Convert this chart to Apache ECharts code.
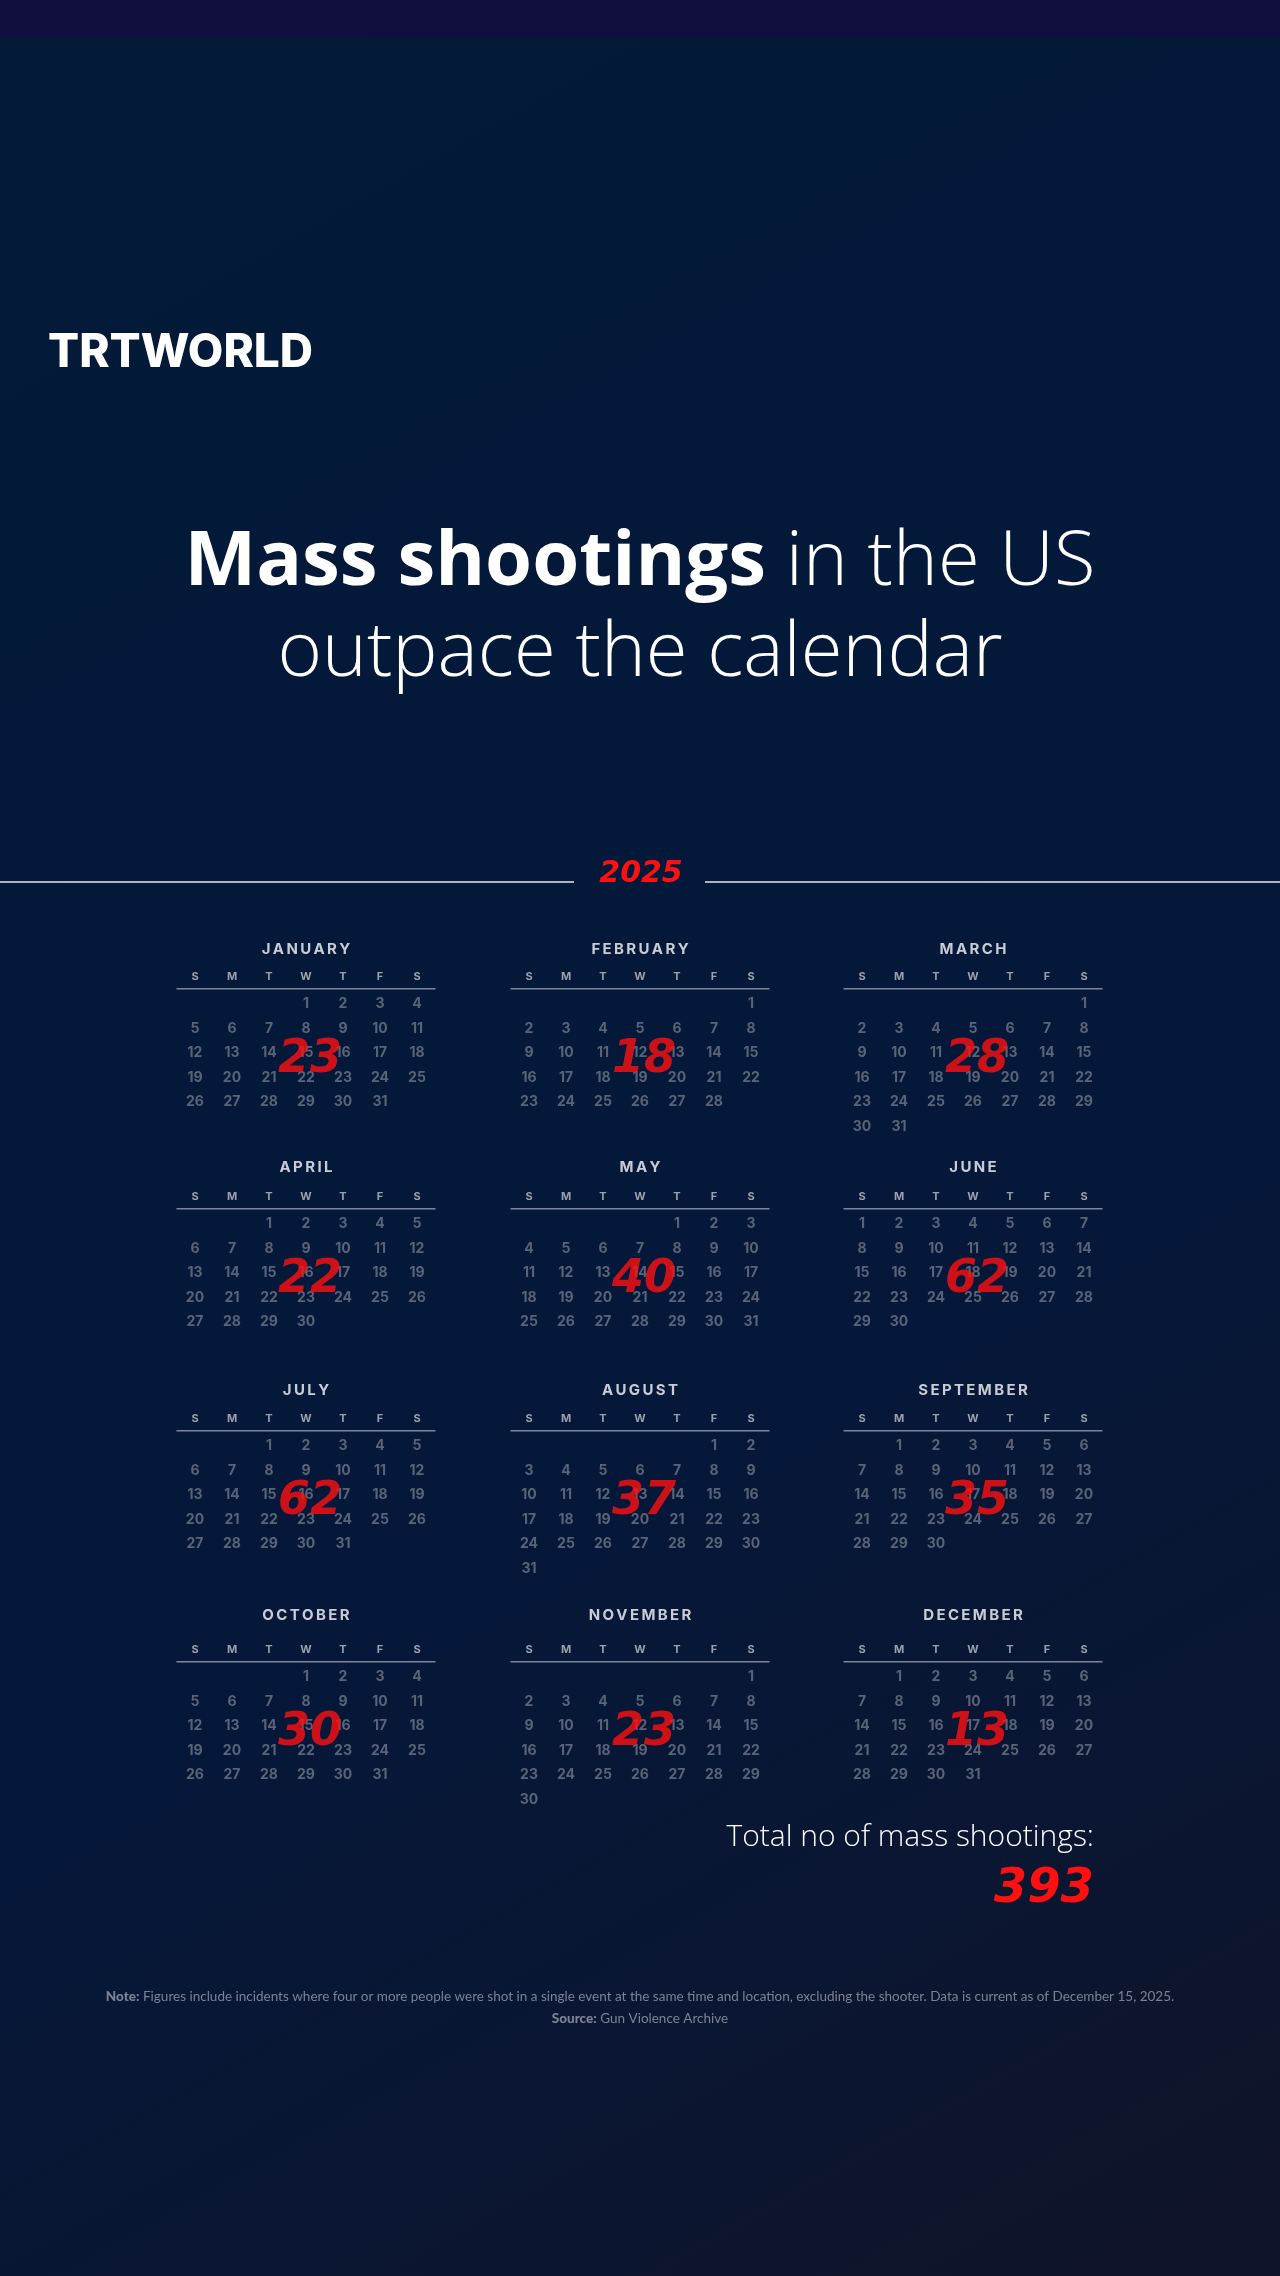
<!DOCTYPE html>
<html>
<head>
<meta charset="utf-8">
<title>Mass shootings in the US outpace the calendar</title>
<script src="https://cdn.jsdelivr.net/npm/echarts@6/dist/echarts.min.js"></script>
<style>
  html, body { margin: 0; padding: 0; background: #04193a; }
  #chart { width: 1280px; height: 2276px; }
</style>
</head>
<body>
<div id="chart"></div>
<script>
// data
const year = 2025;
const monthNames = ['JANUARY', 'FEBRUARY', 'MARCH', 'APRIL', 'MAY', 'JUNE',
  'JULY', 'AUGUST', 'SEPTEMBER', 'OCTOBER', 'NOVEMBER', 'DECEMBER'];
const shootings = [23, 18, 28, 22, 40, 62, 62, 37, 35, 30, 23, 13];
const dayNames = ['S', 'M', 'T', 'W', 'T', 'F', 'S'];

// layout of the 3 x 4 grid of months
const colLeft = [176.5, 510.5, 843.5];
const rowTop = [991.75, 1211.75, 1433.75, 1664.75];
const headerGap = [35, 37, 36, 42];
const cellW = 37, cellH = 24.5;

const chart = echarts.init(document.getElementById('chart'));

const pad = n => (n < 10 ? '0' : '') + n;
const spaced = s => s.split('').join('\u2009');

const calendars = [];
const series = [];
const lines = [];

monthNames.forEach((name, m) => {
  const left = colLeft[m % 3];
  const top = rowTop[Math.floor(m / 3)];
  calendars.push({
    orient: 'vertical',
    range: year + '-' + pad(m + 1),
    left: left,
    top: top,
    cellSize: [cellW, cellH],
    splitLine: { show: false },
    itemStyle: { color: 'transparent', borderWidth: 0 },
    dayLabel: {
      firstDay: 0,
      nameMap: dayNames,
      position: 'start',
      margin: 10,
      color: '#9ba1ad',
      fontSize: 11,
      fontWeight: 700,
      fontFamily: 'Inter'
    },
    monthLabel: { show: false },
    yearLabel: {
      show: true,
      position: 'top',
      margin: headerGap[Math.floor(m / 3)],
      formatter: () => spaced(name),
      color: '#c9ccd3',
      fontSize: 15,
      fontWeight: 700,
      fontFamily: 'Inter'
    }
  });

  // separator under the weekday letters
  lines.push({
    type: 'line',
    shape: { x1: left, y1: top - 3, x2: left + cellW * 7, y2: top - 3 },
    style: { stroke: '#7f8594', lineWidth: 1.5 },
    silent: true
  });

  // day numbers
  const days = new Date(year, m + 1, 0).getDate();
  const dayData = [];
  for (let d = 1; d <= days; d++) {
    dayData.push([year + '-' + pad(m + 1) + '-' + pad(d), d]);
  }
  series.push({
    type: 'scatter',
    coordinateSystem: 'calendar',
    calendarIndex: m,
    symbolSize: 1,
    itemStyle: { color: 'transparent' },
    silent: true,
    label: {
      show: true,
      position: 'inside',
      formatter: p => p.value[1],
      color: '#6f7787',
      fontSize: 14,
      fontWeight: 700,
      fontFamily: 'Inter'
    },
    data: dayData,
    z: 2
  });

  // monthly total, written over the Wednesday of the third week
  const firstDow = new Date(year, m, 1).getDay();
  const markDay = 18 - firstDow;
  series.push({
    type: 'scatter',
    coordinateSystem: 'calendar',
    calendarIndex: m,
    symbolSize: 1,
    itemStyle: { color: 'transparent' },
    silent: true,
    label: {
      show: true,
      position: 'inside',
      offset: [4, 7],
      formatter: p => p.value[1],
      color: '#ff1010',
      fontSize: 46,
      fontStyle: 'italic',
      fontWeight: 700,
      fontFamily: 'DejaVu Sans'
    },
    data: [[year + '-' + pad(m + 1) + '-' + pad(markDay), shootings[m]]],
    z: 5
  });
});

const total = shootings.reduce((a, b) => a + b, 0);

const option = {
  backgroundColor: {
    type: 'linear', x: 0, y: 0, x2: 1, y2: 1,
    colorStops: [
      { offset: 0, color: '#031a38' },
      { offset: 0.6, color: '#05183a' },
      { offset: 1, color: '#10142a' }
    ]
  },
  calendar: calendars,
  series: series,
  graphic: [
    { type: 'rect', shape: { x: 0, y: 0, width: 1280, height: 37 }, style: { fill: '#110f40' }, silent: true },
    {
      type: 'text', left: 48, top: 330,
      style: { text: 'TRTWORLD', fill: '#ffffff', font: '800 46px Inter' }
    },
    {
      type: 'text', x: 640, y: 563,
      style: {
        text: '{b|Mass shootings}{l| in the US}',
        align: 'center', verticalAlign: 'middle',
        rich: {
          b: { fill: '#ffffff', fontSize: 76, fontWeight: 700, fontFamily: 'Open Sans' },
          l: { fill: '#ffffff', fontSize: 76, fontWeight: 300, fontFamily: 'Open Sans' }
        }
      }
    },
    {
      type: 'text', x: 640, y: 654,
      style: {
        text: 'outpace the calendar', fill: '#ffffff',
        align: 'center', verticalAlign: 'middle',
        font: '300 76px "Open Sans"'
      }
    },
    { type: 'line', shape: { x1: 0, y1: 882, x2: 574, y2: 882 }, style: { stroke: '#e6e9ef', lineWidth: 1.5 }, silent: true },
    { type: 'line', shape: { x1: 705, y1: 882, x2: 1280, y2: 882 }, style: { stroke: '#e6e9ef', lineWidth: 1.5 }, silent: true },
    {
      type: 'text', x: 641, y: 874,
      style: { text: String(year), fill: '#ff1010', align: 'center', verticalAlign: 'middle', font: 'italic 700 30px "DejaVu Sans"' }
    },
    ...lines,
    {
      type: 'text', x: 1094, y: 1837,
      style: { text: 'Total no of mass shootings:', fill: '#ffffff', align: 'right', verticalAlign: 'middle', font: '300 30px "Open Sans"' }
    },
    {
      type: 'text', x: 1094, y: 1890,
      style: { text: String(total), fill: '#ff1010', align: 'right', verticalAlign: 'middle', font: 'italic 700 48px "DejaVu Sans"' }
    },
    {
      type: 'text', x: 640, y: 1997,
      style: {
        text: '{b|Note:} Figures include incidents where four or more people were shot in a single event at the same time and location, excluding the shooter. Data is current as of December 15, 2025.',
        align: 'center', verticalAlign: 'middle',
        fill: '#7b8393', fontSize: 13.5, fontFamily: 'Lato',
        rich: { b: { fill: '#7b8393', fontSize: 13.5, fontWeight: 900, fontFamily: 'Lato' } }
      }
    },
    {
      type: 'text', x: 640, y: 2019,
      style: {
        text: '{b|Source:} Gun Violence Archive',
        align: 'center', verticalAlign: 'middle',
        fill: '#7b8393', fontSize: 13.5, fontFamily: 'Lato',
        rich: { b: { fill: '#7b8393', fontSize: 13.5, fontWeight: 900, fontFamily: 'Lato' } }
      }
    }
  ]
};

chart.setOption(option);
</script>
</body>
</html>
